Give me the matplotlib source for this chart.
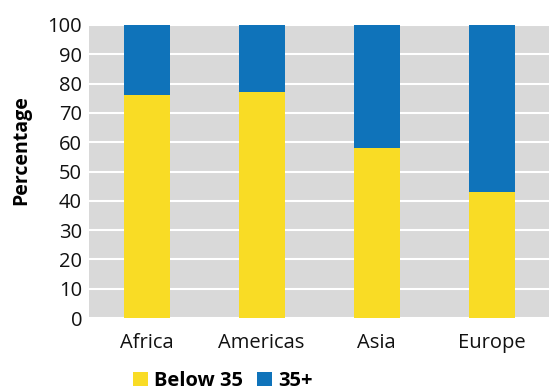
import matplotlib
matplotlib.use("Agg")
import matplotlib.pyplot as plt
import numpy as np

categories = ["Africa", "Americas", "Asia", "Europe"]
below35 = [76, 77, 58, 43]
over35 = [24, 23, 42, 57]
series_names = ["Below 35", "35+"]
yticks = [0, 10, 20, 30, 40, 50, 60, 70, 80, 90, 100]

plt.rcParams['font.family'] = ['Open Sans', 'DejaVu Sans']

fig = plt.figure(figsize=(5.49, 3.91), dpi=100)
ax = fig.add_axes([89/549, 1-318/391, (549-89)/549, (318-25)/391])
ax.set_facecolor("#D9D9D9")
x = np.arange(len(categories))
ax.bar(x, below35, width=0.4, color="#F9DC25", label=series_names[0], zorder=3)
ax.bar(x, over35, width=0.4, bottom=below35, color="#0F73BA", label=series_names[1], zorder=3)
ax.set_xlim(-0.5, len(categories) - 0.5)
ax.set_ylim(0, 100)
ax.set_yticks(yticks)
ax.yaxis.grid(True, color="white", linewidth=1.5, zorder=1)
ax.set_axisbelow(True)
for s in ax.spines.values():
    s.set_visible(False)
ax.tick_params(axis="both", length=0, labelsize=14.5, colors="#111111")
ax.tick_params(axis="y", pad=5)
ax.tick_params(axis="x", pad=11)
ax.set_xticks(x)
ax.set_xticklabels(categories)
ax.set_ylabel("Percentage", fontsize=14, fontweight="bold")
ax.yaxis.set_label_coords(-0.148, 0.573)
ax.yaxis.label.set_verticalalignment("center")
leg = fig.legend(loc="center", bbox_to_anchor=(223/549, 1-381/391), ncol=2, frameon=False,
                 prop={"size": 14.5, "weight": "bold"}, handlelength=0.75, handleheight=0.75,
                 columnspacing=0.7, handletextpad=0.3, borderaxespad=0, borderpad=0)
fig.savefig("out.png", dpi=100)
